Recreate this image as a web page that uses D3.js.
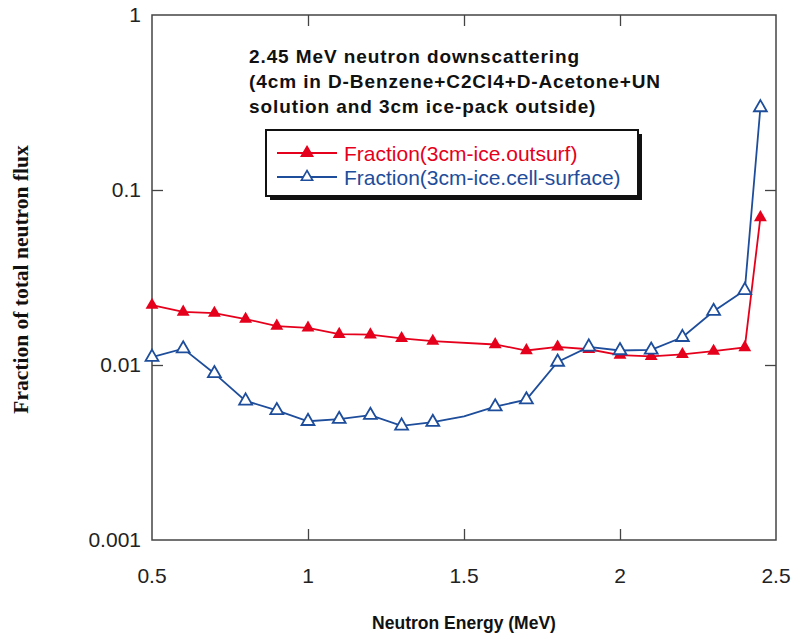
<!DOCTYPE html>
<html>
<head>
<meta charset="utf-8">
<script src="https://cdn.jsdelivr.net/npm/d3@7"></script>
<style>
  body { margin: 0; background: #fff; }
  svg { display: block; }
  .tick-label { font-family: "Liberation Sans", Arial, sans-serif; font-size: 21px; fill: #222; }
  .title { font-family: "Liberation Sans", Arial, sans-serif; font-size: 19px; font-weight: bold; fill: #111; letter-spacing: 0.9px; }
</style>
</head>
<body>
<div id="chart"></div>
<script>
// Neutron downscattering fractions

const energies = [0.5, 0.6, 0.7, 0.8, 0.9, 1.0, 1.1, 1.2, 1.3, 1.4, 1.6, 1.7, 1.8, 1.9, 2.0, 2.1, 2.2, 2.3, 2.4, 2.45];
const outsurf = [0.0220, 0.0201, 0.0198, 0.0183, 0.0167, 0.0163, 0.0150, 0.0149, 0.0142, 0.0137,
                 0.0131, 0.0121, 0.0127, 0.0123, 0.0114, 0.0112, 0.0115, 0.0120, 0.0126, 0.0697];

const cellEnergies = [0.5, 0.6, 0.7, 0.8, 0.9, 1.0, 1.1, 1.2, 1.3, 1.4, 1.5, 1.6, 1.7, 1.8, 1.9, 2.0, 2.1, 2.2, 2.3, 2.4, 2.45];
const cellSurface = [0.0111, 0.0124, 0.00895, 0.00624, 0.00550, 0.00477, 0.00490, 0.00517, 0.00449, 0.00471,
                     0.00509, 0.00578, 0.00634, 0.0104, 0.0127, 0.0121, 0.0122, 0.0144, 0.0203, 0.0267, 0.296];
// the 1.5 MeV cell-surface point has no marker in the original
const unmarked = [1.5];

const xTicks = [0.5, 1, 1.5, 2, 2.5];
const yTicks = [0.001, 0.01, 0.1, 1];
const yTickLabels = ["0.001", "0.01", "0.1", "1"];

const titleLines = [
    "2.45 MeV neutron downscattering",
    "(4cm in D-Benzene+C2Cl4+D-Acetone+UN",
    "solution and 3cm ice-pack outside)"
];
const legendNames = ["Fraction(3cm-ice.outsurf)", "Fraction(3cm-ice.cell-surface)"];

const red = "#e5001c";
const blue = "#1d4d9b";

const width = 791;
const height = 636;
const plot = { left: 152, right: 776, top: 15, bottom: 540 };

const svg = d3.select("#chart").append("svg")
    .attr("width", width)
    .attr("height", height);

const xScale = d3.scaleLinear().domain([0.5, 2.5]).range([plot.left, plot.right]);
const yScale = d3.scaleLog().domain([0.001, 1]).range([plot.bottom, plot.top]);

// Frame
svg.append("rect")
    .attr("x", plot.left)
    .attr("y", plot.top)
    .attr("width", plot.right - plot.left)
    .attr("height", plot.bottom - plot.top)
    .attr("fill", "none")
    .attr("stroke", "#444")
    .attr("stroke-width", 1.5);

// Axes with inward ticks on all four sides
const tickLen = 11;
svg.append("g")
    .attr("transform", `translate(0,${plot.bottom})`)
    .call(d3.axisTop(xScale).tickValues(xTicks.slice(1, -1)).tickSize(tickLen).tickFormat(""))
    .call(g => g.select(".domain").remove())
    .call(g => g.selectAll(".tick line").attr("stroke", "#444").attr("stroke-width", 1.3));

svg.append("g")
    .attr("transform", `translate(0,${plot.top})`)
    .call(d3.axisBottom(xScale).tickValues(xTicks.slice(1, -1)).tickSize(tickLen).tickFormat(""))
    .call(g => g.select(".domain").remove())
    .call(g => g.selectAll(".tick line").attr("stroke", "#444").attr("stroke-width", 1.3));

svg.append("g")
    .attr("transform", `translate(${plot.left},0)`)
    .call(d3.axisRight(yScale).tickValues(yTicks.slice(1, -1)).tickSize(tickLen).tickFormat(""))
    .call(g => g.select(".domain").remove())
    .call(g => g.selectAll(".tick line").attr("stroke", "#444").attr("stroke-width", 1.3));

svg.append("g")
    .attr("transform", `translate(${plot.right},0)`)
    .call(d3.axisLeft(yScale).tickValues(yTicks.slice(1, -1)).tickSize(tickLen).tickFormat(""))
    .call(g => g.select(".domain").remove())
    .call(g => g.selectAll(".tick line").attr("stroke", "#444").attr("stroke-width", 1.3));

// Tick labels
svg.append("g").selectAll("text")
    .data(xTicks)
    .join("text")
    .attr("class", "tick-label")
    .attr("x", d => xScale(d))
    .attr("y", plot.bottom + 43)
    .attr("text-anchor", "middle")
    .text(d => d);

svg.append("g").selectAll("text")
    .data(yTicks)
    .join("text")
    .attr("class", "tick-label")
    .attr("x", plot.left - 11)
    .attr("y", d => yScale(d) + 7)
    .attr("text-anchor", "end")
    .text((d, i) => yTickLabels[i]);

// Axis titles
svg.append("text")
    .attr("class", "title")
    .attr("x", xScale(1.5))
    .attr("y", 629)
    .attr("text-anchor", "middle")
    .style("letter-spacing", "0px")
    .style("font-size", "17.5px")
    .text("Neutron Energy (MeV)");

svg.append("text")
    .attr("transform", `translate(28,${(plot.top + plot.bottom) / 2 + 2}) rotate(-90)`)
    .attr("text-anchor", "middle")
    .style("font-family", "'Liberation Serif', 'Times New Roman', serif")
    .style("font-size", "21.5px")
    .style("font-weight", "bold")
    .style("fill", "#111")
    .text("Fraction of total neutron flux");

// Series
const redData = energies.map((e, i) => ({ x: e, y: outsurf[i] }));
const blueData = cellEnergies.map((e, i) => ({ x: e, y: cellSurface[i] }));

const line = d3.line()
    .x(d => xScale(d.x))
    .y(d => yScale(d.y));

const tri = d3.symbol().type(d3.symbolTriangle).size(72);

svg.append("path")
    .datum(blueData)
    .attr("fill", "none")
    .attr("stroke", blue)
    .attr("stroke-width", 1.8)
    .attr("d", line);

svg.append("path")
    .datum(redData)
    .attr("fill", "none")
    .attr("stroke", red)
    .attr("stroke-width", 1.8)
    .attr("d", line);

svg.append("g").selectAll("path")
    .data(redData)
    .join("path")
    .attr("transform", d => `translate(${xScale(d.x)},${yScale(d.y)})`)
    .attr("d", tri)
    .attr("fill", red);

svg.append("g").selectAll("path")
    .data(blueData.filter(d => !unmarked.includes(d.x)))
    .join("path")
    .attr("transform", d => `translate(${xScale(d.x)},${yScale(d.y)})`)
    .attr("d", tri)
    .attr("fill", "#fff")
    .attr("stroke", blue)
    .attr("stroke-width", 1.8);

// Title block
svg.append("g").selectAll("text")
    .data(titleLines)
    .join("text")
    .attr("class", "title")
    .attr("x", 249)
    .attr("y", (d, i) => 63 + i * 25)
    .text(d => d);

// Legend box with drop shadow
const legend = svg.append("g").attr("transform", "translate(266,130)");
legend.append("rect")
    .attr("x", 4).attr("y", 4)
    .attr("width", 372).attr("height", 66)
    .attr("fill", "#111");
legend.append("rect")
    .attr("width", 372).attr("height", 66)
    .attr("fill", "#fff")
    .attr("stroke", "#111")
    .attr("stroke-width", 2);

const legendItems = legend.selectAll(".item")
    .data([{ color: red, fill: red }, { color: blue, fill: "#fff" }])
    .join("g")
    .attr("class", "item")
    .attr("transform", (d, i) => `translate(0,${23 + i * 24})`);

legendItems.append("line")
    .attr("x1", 11).attr("x2", 71)
    .attr("stroke", d => d.color)
    .attr("stroke-width", 1.8);

legendItems.append("path")
    .attr("transform", "translate(41,0)")
    .attr("d", d3.symbol().type(d3.symbolTriangle).size(55))
    .attr("fill", d => d.fill)
    .attr("stroke", d => d.color)
    .attr("stroke-width", 1.6);

legendItems.append("text")
    .attr("x", 78)
    .attr("y", 8)
    .style("font-family", "'Liberation Sans', Arial, sans-serif")
    .style("font-size", "21px")
    .style("fill", d => d.color)
    .text((d, i) => legendNames[i]);
</script>
</body>
</html>
